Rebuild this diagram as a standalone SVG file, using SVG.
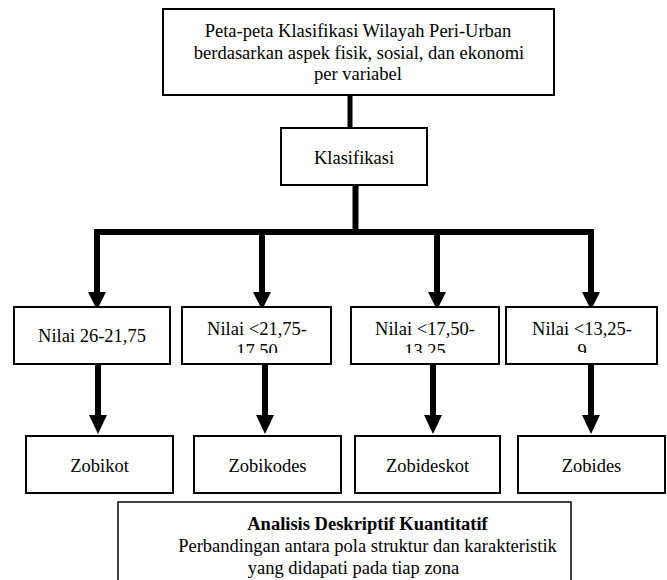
<svg xmlns="http://www.w3.org/2000/svg" width="667" height="580" viewBox="0 0 667 580">
  <style>
    .box { fill: #fff; stroke: #000; stroke-width: 2; }
    .thin { fill: #fff; stroke: #000; stroke-width: 1.5; }
    .t { font-family: "Liberation Serif", "Times New Roman", serif; font-size: 18.5px; fill: #000; text-anchor: middle; }
    .b { font-weight: bold; }
    .stem { stroke: #000; stroke-width: 6; fill: none; }
    .head { fill: #000; stroke: none; }
  </style>
  <defs>
    <clipPath id="clipN">
      <rect x="0" y="300" width="667" height="53"/>
    </clipPath>
  </defs>
  <rect width="667" height="580" fill="#fff"/>

  <g id="connectors">
    <line class="stem" x1="350" y1="95" x2="350" y2="128" style="stroke-width:5"/>
    <line class="stem" x1="355.5" y1="185" x2="355.5" y2="232"/>
    <line class="stem" x1="94" y1="232" x2="594" y2="232"/>
    <line class="stem" x1="97" y1="232" x2="97" y2="293"/>
    <line class="stem" x1="262" y1="232" x2="262" y2="293"/>
    <line class="stem" x1="437" y1="232" x2="437" y2="293"/>
    <line class="stem" x1="591" y1="232" x2="591" y2="293"/>
    <polygon class="head" points="88,292 106,292 97,310"/>
    <polygon class="head" points="253,292 271,292 262,310"/>
    <polygon class="head" points="428,292 446,292 437,310"/>
    <polygon class="head" points="582,292 600,292 591,310"/>
    <line class="stem" x1="98" y1="364" x2="98" y2="416"/>
    <line class="stem" x1="265" y1="364" x2="265" y2="416"/>
    <line class="stem" x1="433" y1="364" x2="433" y2="416"/>
    <line class="stem" x1="591" y1="364" x2="591" y2="416"/>
    <polygon class="head" points="89,415 107,415 98,434"/>
    <polygon class="head" points="256,415 274,415 265,434"/>
    <polygon class="head" points="424,415 442,415 433,434"/>
    <polygon class="head" points="582,415 600,415 591,434"/>
  </g>

  <g id="peta">
    <rect class="box" x="163" y="9" width="391" height="86"/>
    <text class="t" x="358" y="37">Peta-peta Klasifikasi Wilayah Peri-Urban</text>
    <text class="t" x="359" y="59">berdasarkan aspek fisik, sosial, dan ekonomi</text>
    <text class="t" x="358" y="80">per variabel</text>
  </g>

  <g id="klasifikasi">
    <rect class="box" x="281" y="128" width="146" height="57"/>
    <text class="t" x="354" y="164">Klasifikasi</text>
  </g>

  <g id="nilai1">
    <rect class="box" x="14" y="307" width="156" height="57"/>
    <text class="t" x="92" y="342">Nilai 26-21,75</text>
  </g>
  <g id="nilai2">
    <rect class="box" x="182" y="307" width="149" height="57"/>
    <g clip-path="url(#clipN)">
      <text class="t" x="257" y="335">Nilai &lt;21,75-</text>
      <text class="t" x="257" y="357">17,50</text>
    </g>
  </g>
  <g id="nilai3">
    <rect class="box" x="351" y="307" width="148" height="57"/>
    <g clip-path="url(#clipN)">
      <text class="t" x="425" y="335">Nilai &lt;17,50-</text>
      <text class="t" x="425" y="357">13,25</text>
    </g>
  </g>
  <g id="nilai4">
    <rect class="box" x="506" y="307" width="151" height="57"/>
    <g clip-path="url(#clipN)">
      <text class="t" x="582" y="335">Nilai &lt;13,25-</text>
      <text class="t" x="582" y="357">9</text>
    </g>
  </g>

  <g id="zobikot">
    <rect class="box" x="26" y="436" width="147" height="57"/>
    <text class="t" x="99.5" y="472">Zobikot</text>
  </g>
  <g id="zobikodes">
    <rect class="box" x="194" y="436" width="147" height="57"/>
    <text class="t" x="267.5" y="472">Zobikodes</text>
  </g>
  <g id="zobideskot">
    <rect class="box" x="355" y="436" width="145" height="57"/>
    <text class="t" x="427.5" y="472">Zobideskot</text>
  </g>
  <g id="zobides">
    <rect class="box" x="518" y="436" width="147" height="57"/>
    <text class="t" x="591.5" y="472">Zobides</text>
  </g>

  <g id="analisis">
    <rect class="thin" x="118" y="502" width="453" height="90"/>
    <text class="t b" x="367.5" y="530">Analisis Deskriptif Kuantitatif</text>
    <text class="t" x="367.5" y="552">Perbandingan antara pola struktur dan karakteristik</text>
    <text class="t" x="353.5" y="574">yang didapati pada tiap zona</text>
  </g>
</svg>
